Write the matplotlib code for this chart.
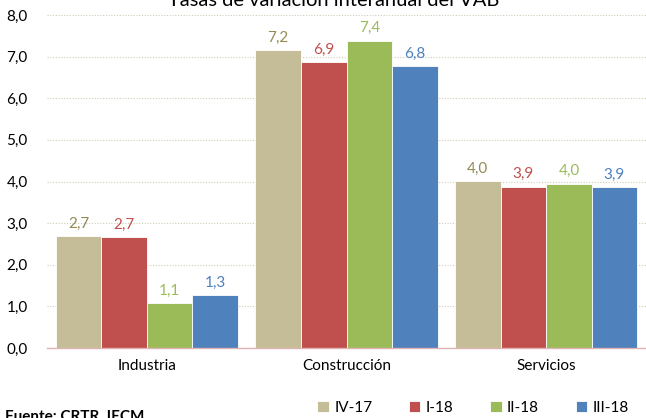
import matplotlib
matplotlib.use("Agg")
import matplotlib.pyplot as plt
import numpy as np

categories = ["Industria", "Construcción", "Servicios"]
series = ["IV-17", "I-18", "II-18", "III-18"]
values = {
    "IV-17": [2.69, 7.16, 4.01],
    "I-18": [2.66, 6.87, 3.87],
    "II-18": [1.08, 7.38, 3.95],
    "III-18": [1.27, 6.77, 3.86],
}
yticks = [0, 1, 2, 3, 4, 5, 6, 7, 8]

bar_colors = ["#C4BD97", "#C0504D", "#9BBB59", "#4F81BD"]
label_colors = ["#948A54", "#C0504D", "#9BBB59", "#4F81BD"]

plt.rcParams['font.family'] = ['Lato', 'DejaVu Sans']

W, H = 646, 418
fig = plt.figure(figsize=(W / 100, H / 100), dpi=100)
ax = fig.add_axes([47 / W, 1 - 348 / H, (646 - 47) / W, (348 - 15) / H])

x = np.arange(len(categories))
bw = 0.228
for i, s in enumerate(series):
    pos = x + (i - 1.5) * bw
    ax.bar(pos, values[s], width=bw, color=bar_colors[i], edgecolor='white',
           linewidth=0.6, zorder=3, label=s)
    for xb, v in zip(pos, values[s]):
        ax.annotate(f"{v:.1f}".replace('.', ','), (xb, v), xytext=(0, 4),
                    textcoords='offset points', ha='center', va='bottom',
                    fontsize=11, color=label_colors[i], zorder=4)

ax.set_xlim(-0.5, 2.5)
ax.set_ylim(0, 8)
ax.set_yticks(yticks)
ax.set_yticklabels([f"{t:.1f}".replace('.', ',') for t in yticks], fontsize=11)
ax.set_xticks(x)
ax.set_xticklabels(categories, fontsize=11)
ax.tick_params(axis='both', length=0)
ax.tick_params(axis='y', pad=14)
ax.tick_params(axis='x', pad=8)
ax.yaxis.grid(True, linestyle=(0, (1, 1.5)), color='#CFCCB8', linewidth=0.8, zorder=0)
ax.set_axisbelow(True)
for sp in ['top', 'right', 'left']:
    ax.spines[sp].set_visible(False)
ax.spines['bottom'].set_color('#E0B4B4')
ax.spines['bottom'].set_linewidth(1.0)
ax.spines['bottom'].set_zorder(5)

fig.text(334 / W, 1 - 0 / H, "Tasas de variación interanual del VAB", ha='center',
         va='center', fontsize=14.5, color='black')
fig.text(5 / W, 1 - 417 / H, "Fuente: CRTR. IECM", ha='left', va='center',
         fontsize=11, fontweight='bold', color='black')

fig.legend(loc='center', bbox_to_anchor=(473 / W, 1 - 408 / H), ncol=4,
           frameon=False, handlelength=0.75, handleheight=0.75,
           handletextpad=0.35, columnspacing=2.4, fontsize=11,
           borderaxespad=0, borderpad=0)

fig.savefig("out.png", dpi=100)
